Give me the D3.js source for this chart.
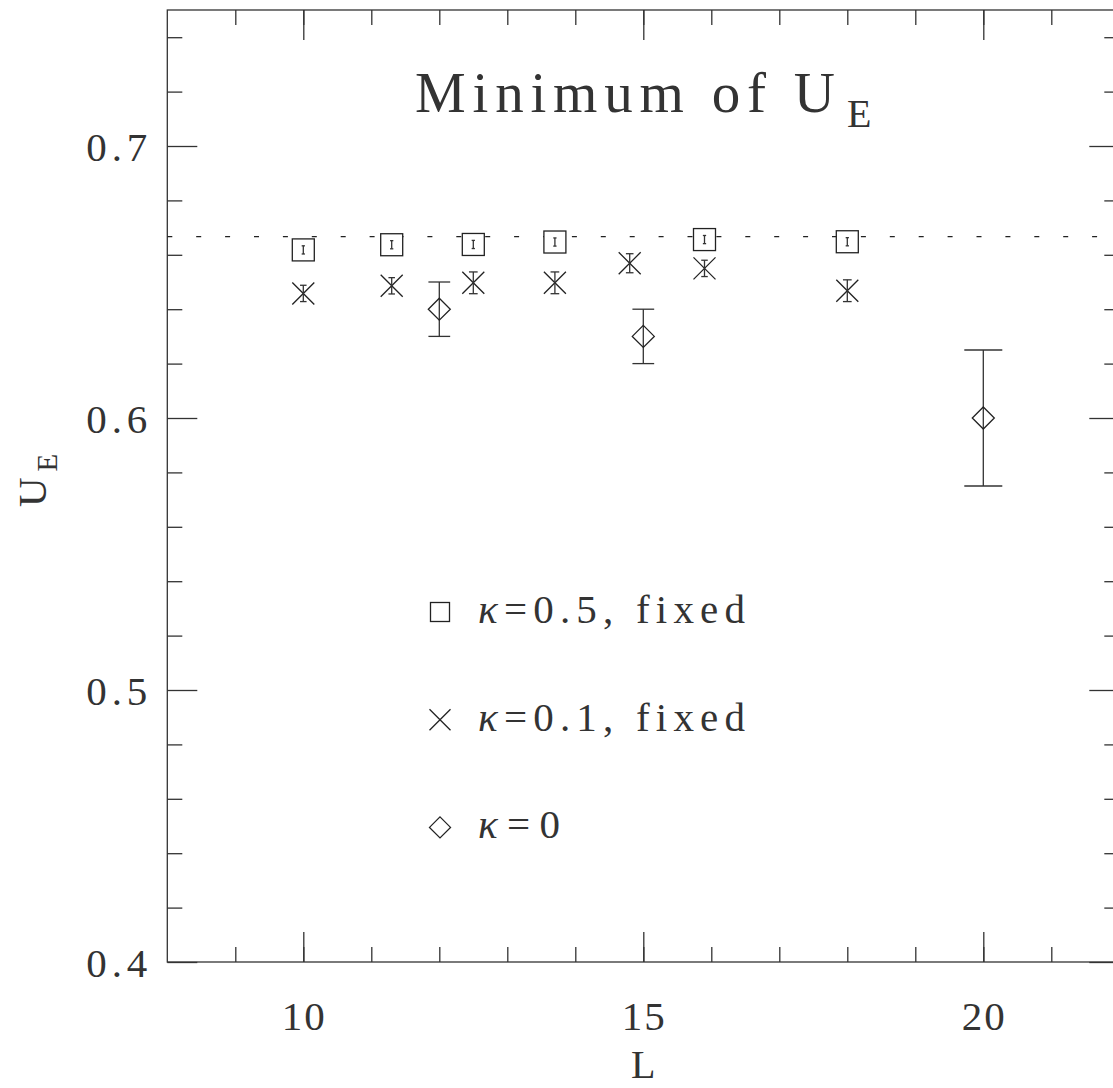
<!DOCTYPE html>
<html>
<head>
<meta charset="utf-8">
<script src="https://cdn.jsdelivr.net/npm/d3@7"></script>
<style>
  body { margin: 0; background: #fff; }
  text { font-family: "Liberation Serif", "Times New Roman", serif; fill: #333; }
</style>
</head>
<body>
<div id="chart"></div>
<script>
// data
const L_k05 = [10, 11.3, 12.5, 13.7, 15.9, 18];
const U_k05 = [0.6618, 0.6637, 0.6638, 0.6647, 0.6656, 0.6648];
const E_k05 = [0.0015, 0.0015, 0.0015, 0.0015, 0.0015, 0.0015];

const L_k01 = [10, 11.3, 12.5, 13.7, 14.8, 15.9, 18];
const U_k01 = [0.6458, 0.6486, 0.6497, 0.6497, 0.6569, 0.6550, 0.6468];
const E_k01 = [0.003, 0.003, 0.004, 0.004, 0.0035, 0.003, 0.004];

const L_k0 = [12, 15, 20];
const U_k0 = [0.640, 0.630, 0.600];
const E_k0 = [0.010, 0.010, 0.025];

const refValue = 2 / 3;

const xTicksMajor = [10, 15, 20];
const yTicksMajor = [0.4, 0.5, 0.6, 0.7];

const width = 1113, height = 1088;
const svg = d3.select("#chart").append("svg")
  .attr("width", width)
  .attr("height", height);

const x = d3.scaleLinear().domain([8, 22]).range([167.3, 1119.3]);
const y = d3.scaleLinear().domain([0.4, 0.75]).range([962, 10]);

const ink = "#333";
const major = 30, minor = 15;

// frame
svg.append("rect")
  .attr("x", x(8)).attr("y", y(0.75))
  .attr("width", x(22) - x(8)).attr("height", y(0.4) - y(0.75))
  .attr("fill", "none").attr("stroke", ink).attr("stroke-width", 1.3);

// ticks, drawn inward on all four sides
const xMinor = d3.range(9, 22);
const yMinor = d3.range(0.42, 0.75, 0.02).filter(v => Math.abs(v * 10 - Math.round(v * 10)) > 1e-6);

function tickAxis(axis, tr, ticks, size) {
  const g = svg.append("g").attr("transform", tr)
    .call(axis.tickValues(ticks).tickSizeInner(size).tickSizeOuter(0).tickFormat(""));
  g.select(".domain").remove();
  g.selectAll("line").attr("stroke", ink).attr("stroke-width", 1.3);
  return g;
}
tickAxis(d3.axisBottom(x), `translate(0,${y(0.4)})`, xMinor, -minor);
tickAxis(d3.axisBottom(x), `translate(0,${y(0.4)})`, xTicksMajor, -major);
tickAxis(d3.axisTop(x), `translate(0,${y(0.75)})`, xMinor, -minor);
tickAxis(d3.axisTop(x), `translate(0,${y(0.75)})`, xTicksMajor, -major);
tickAxis(d3.axisLeft(y), `translate(${x(8)},0)`, yMinor, -minor);
tickAxis(d3.axisLeft(y), `translate(${x(8)},0)`, yTicksMajor, -major);
tickAxis(d3.axisRight(y), `translate(${x(22)},0)`, yMinor, -minor);
tickAxis(d3.axisRight(y), `translate(${x(22)},0)`, yTicksMajor, -major);

// tick labels
svg.append("g").selectAll("text")
  .data(xTicksMajor).join("text")
  .attr("x", d => x(d)).attr("y", y(0.4) + 68)
  .attr("text-anchor", "middle")
  .attr("font-size", 41)
  .attr("textLength", 43).attr("lengthAdjust", "spacing")
  .text(d => d);

svg.append("g").selectAll("text")
  .data(yTicksMajor).join("text")
  .attr("x", x(8) - 20).attr("y", d => y(d) + 15)
  .attr("text-anchor", "end")
  .attr("font-size", 41)
  .attr("textLength", 61).attr("lengthAdjust", "spacing")
  .text(d => d3.format(".1f")(d));

// axis titles
svg.append("text")
  .attr("x", x(15)).attr("y", 1078)
  .attr("text-anchor", "middle")
  .attr("font-size", 40)
  .text("L");

const yl = svg.append("text")
  .attr("transform", "translate(45.7,507) rotate(-90)")
  .attr("font-size", 41);
yl.append("tspan").text("U");
yl.append("tspan").attr("dx", 6).attr("dy", 11).attr("font-size", 29).text("E");

// title
svg.append("text")
  .attr("x", 415).attr("y", 111.7)
  .attr("font-size", 57)
  .attr("textLength", 420).attr("lengthAdjust", "spacing")
  .text("Minimum of U");
svg.append("text")
  .attr("x", 847).attr("y", 127)
  .attr("font-size", 40)
  .text("E");

// dotted reference line
svg.append("line")
  .attr("x1", x(8)).attr("x2", x(22))
  .attr("y1", y(refValue)).attr("y2", y(refValue))
  .attr("stroke", "#222").attr("stroke-width", 1.3)
  .attr("stroke-dasharray", "5 23.9");

// error bars
function errorBars(Ls, Us, Es) {
  const pts = Ls.map((L, i) => ({ L, U: Us[i], E: Es[i] }));
  const g = svg.append("g").attr("stroke", ink).attr("stroke-width", 1.3).attr("fill", "none");
  pts.forEach(d => {
    const top = y(d.U + d.E), bot = y(d.U - d.E);
    const cap = Math.min(19, 0.4 * (bot - top) / 2);
    g.append("line").attr("x1", x(d.L)).attr("x2", x(d.L)).attr("y1", top).attr("y2", bot);
    g.append("line").attr("x1", x(d.L) - cap).attr("x2", x(d.L) + cap).attr("y1", top).attr("y2", top);
    g.append("line").attr("x1", x(d.L) - cap).attr("x2", x(d.L) + cap).attr("y1", bot).attr("y2", bot);
  });
  return pts;
}

const s = 11; // marker half-size
function square(g, cx, cy, h) {
  g.append("rect").attr("x", cx - h).attr("y", cy - h).attr("width", 2 * h).attr("height", 2 * h)
    .attr("fill", "#fff").attr("stroke", "#222").attr("stroke-width", 1.3);
}
function cross(g, cx, cy, h) {
  g.append("path").attr("d", `M${cx - h},${cy - h}L${cx + h},${cy + h}M${cx - h},${cy + h}L${cx + h},${cy - h}`)
    .attr("fill", "none").attr("stroke", "#222").attr("stroke-width", 1.3);
}
function diamond(g, cx, cy, h) {
  g.append("path").attr("d", `M${cx},${cy - h}L${cx + h},${cy}L${cx},${cy + h}L${cx - h},${cy}Z`)
    .attr("fill", "none").attr("stroke", "#222").attr("stroke-width", 1.3);
}

const marks = svg.append("g");
L_k05.forEach((L, i) => square(marks, x(L), y(U_k05[i]), s));
errorBars(L_k05, U_k05, E_k05);
errorBars(L_k01, U_k01, E_k01);
L_k01.forEach((L, i) => cross(marks, x(L), y(U_k01[i]), s));
errorBars(L_k0, U_k0, E_k0);
L_k0.forEach((L, i) => diamond(svg, x(L), y(U_k0[i]), s));

// legend
const legendRows = [
  { mark: square, size: 9.5, num: "=0.5, fixed", len: 267 },
  { mark: cross, size: 10.5, num: "=0.1, fixed", len: 267 },
  { mark: diamond, size: 10.5, num: "=0", len: 82 }
];
const legend = svg.append("g");
legendRows.forEach((r, i) => {
  const base = 623 + i * 107.7;
  r.mark(legend, 440, base - 11, r.size);
  const t = legend.append("text")
    .attr("x", 478).attr("y", base)
    .attr("font-size", 41)
    .attr("textLength", r.len).attr("lengthAdjust", "spacing");
  t.append("tspan").attr("font-style", "italic").text("κ");
  t.append("tspan").text(r.num);
});
</script>
</body>
</html>
